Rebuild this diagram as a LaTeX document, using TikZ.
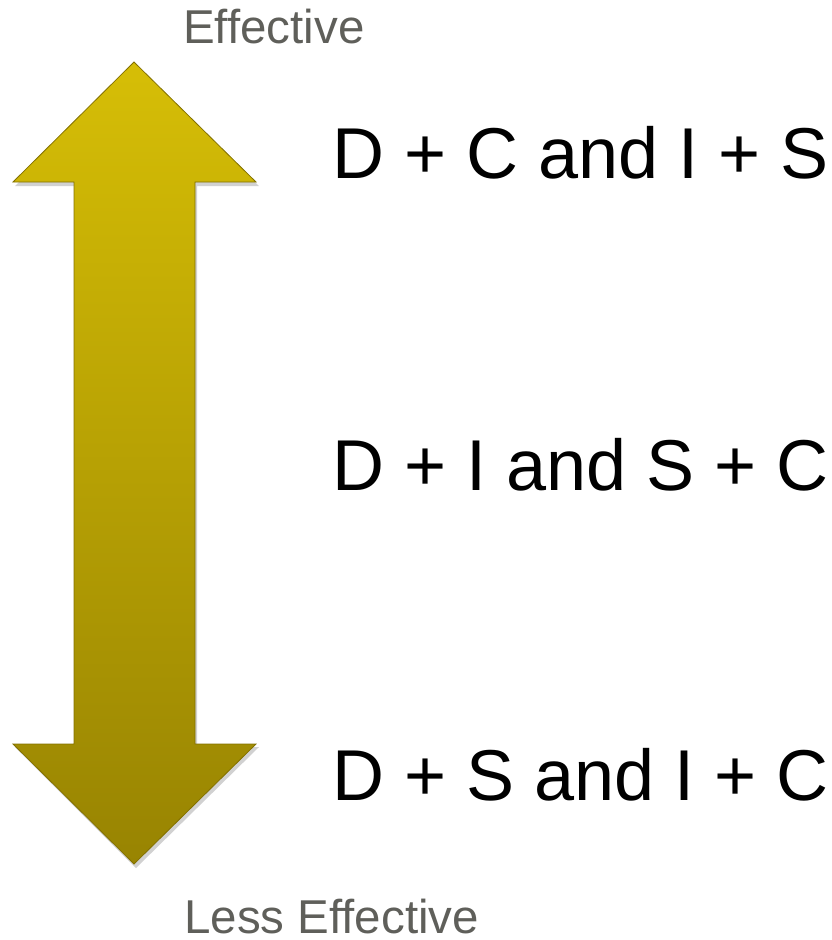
\documentclass[tikz,border=0pt]{standalone}
\usepackage{fontspec}
\setmainfont{Liberation Sans}
\definecolor{goldtop}{RGB}{214,190,6}
\definecolor{goldbot}{RGB}{152,132,2}
\definecolor{goldedge}{RGB}{130,112,0}
\definecolor{labelgray}{RGB}{95,95,90}
\tikzset{
  bigtext/.style={anchor=base west, inner sep=0pt, text=black, font=\fontsize{72}{80}\selectfont},
  endtext/.style={anchor=base west, inner sep=0pt, text depth=0pt, text=labelgray, font=\fontsize{47.5}{52}\selectfont},
  arrowbody/.style={top color=goldtop, bottom color=goldbot, draw=goldedge, line width=0.8pt, line join=miter},
  arrowshadow/.style={fill=black, opacity=0.18, draw=none}
}
\begin{document}
\begin{tikzpicture}[x=1pt,y=-1pt]
\useasboundingbox (0,0) rectangle (832,940);
% shadow
\fill[arrowshadow] (136,65) -- (259,186) -- (197,186) -- (197,747) -- (259,747) -- (136,868) -- (15,747) -- (76,747) -- (76,186) -- (15,186) -- cycle;
% double arrow
\path[arrowbody] (134,62) -- (256,182) -- (195,182) -- (195,744) -- (256,744) -- (134,864) -- (13,744) -- (74,744) -- (74,182) -- (13,182) -- cycle;
% labels
\node[endtext] (eff) at (183,43) {Effective};
\node[endtext] (less) at (184,933) {Less Effective};
\node[bigtext] (r1) at (332,178) {D + C and I + S};
\node[bigtext] (r2) at (332,490) {D + I and S + C};
\node[bigtext] (r3) at (332,800) {D + S and I + C};
\end{tikzpicture}
\end{document}
